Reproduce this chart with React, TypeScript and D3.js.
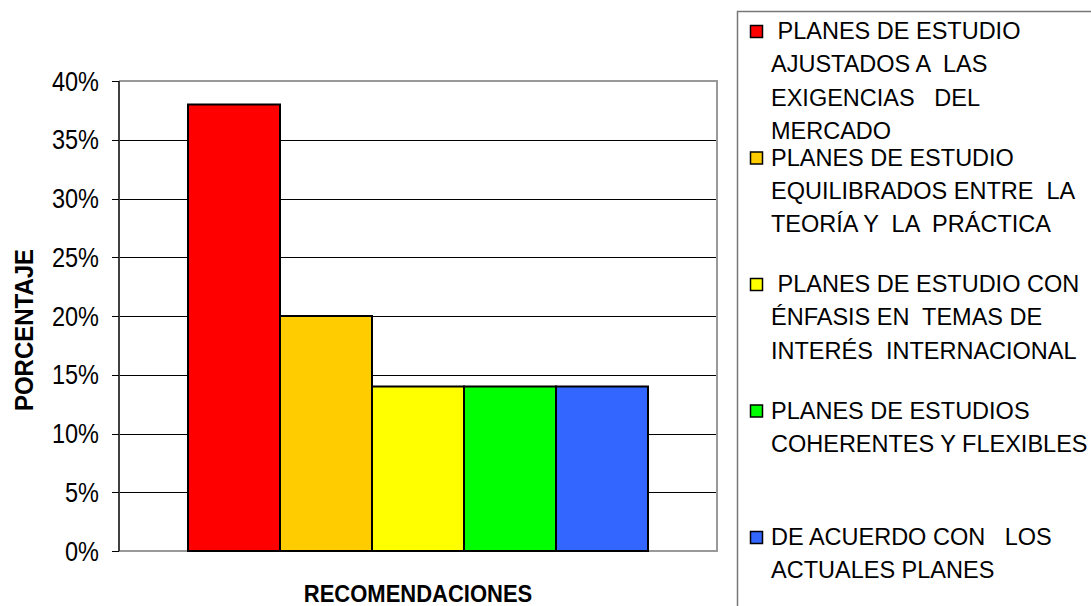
import React from "react";
import * as d3 from "d3";

const seriesNames = [
  "PLANES DE ESTUDIO AJUSTADOS A LAS EXIGENCIAS DEL MERCADO",
  "PLANES DE ESTUDIO EQUILIBRADOS ENTRE LA TEORÍA Y LA PRÁCTICA",
  "PLANES DE ESTUDIO CON ÉNFASIS EN TEMAS DE INTERÉS INTERNACIONAL",
  "PLANES DE ESTUDIOS COHERENTES Y FLEXIBLES",
  "DE ACUERDO CON LOS ACTUALES PLANES",
];
const legendLines = [
  [" PLANES DE ESTUDIO", "AJUSTADOS A  LAS", "EXIGENCIAS   DEL", "MERCADO"],
  ["PLANES DE ESTUDIO", "EQUILIBRADOS ENTRE  LA", "TEORÍA Y  LA  PRÁCTICA"],
  [" PLANES DE ESTUDIO CON", "ÉNFASIS EN  TEMAS DE", "INTERÉS  INTERNACIONAL"],
  ["PLANES DE ESTUDIOS", "COHERENTES Y FLEXIBLES"],
  ["DE ACUERDO CON   LOS", "ACTUALES PLANES"],
];
const values = [38, 20, 14, 14, 14];
const colors = ["#FF0000", "#FFCC00", "#FFFF00", "#00FF00", "#3366FF"];
const category = ["RECOMENDACIONES"];
const yTicks = [0, 5, 10, 15, 20, 25, 30, 35, 40];

const FONT = "Arial, 'Liberation Sans', Helvetica, sans-serif";

export default function App() {
  const left = 119, right = 717, top = 81, bottom = 551;
  const y = d3.scaleLinear().domain([0, 40]).range([bottom, top]);
  const xOuter = d3.scaleBand().domain(category).range([left, right]).paddingInner(0).paddingOuter(0.15);
  const x0 = xOuter(category[0]) as number;
  const xInner = d3.scaleBand().domain(seriesNames).range([x0, x0 + xOuter.bandwidth()]).padding(0);

  const legX = 750, legTextX = 771, legY0 = 39, itemStep = 126.5, lineStep = 33.3;

  return (
    <svg width={1091} height={606} style={{ position: "absolute", left: 0, top: 0, background: "#fff" }} fontFamily={FONT}>
      <rect x={0} y={0} width={1091} height={606} fill="#fff" />
      {yTicks.filter((t) => t > 0 && t < 40).map((t) => (
        <line key={"g" + t} x1={left} x2={right} y1={Math.round(y(t)) + 0.5} y2={Math.round(y(t)) + 0.5} stroke="#000" strokeWidth={1} />
      ))}
      <path d={`M${left},${top} H${right} V${bottom} H${left}`} fill="none" stroke="#999" strokeWidth={2} />
      {values.map((v, i) => (
        <rect
          key={"b" + i}
          x={xInner(seriesNames[i]) as number}
          y={y(v)}
          width={xInner.bandwidth()}
          height={y(0) - y(v)}
          fill={colors[i]}
          stroke="#000"
          strokeWidth={2}
        />
      ))}
      <line x1={left} x2={left} y1={top} y2={bottom} stroke="#404040" strokeWidth={2} />
      {yTicks.map((t) => (
        <g key={"t" + t}>
          <line x1={112} x2={left} y1={Math.round(y(t)) + 0.5} y2={Math.round(y(t)) + 0.5} stroke="#000" strokeWidth={1} />
          <text
            transform={`translate(99,${y(t) + 9.5}) scale(1,1.2)`}
            textAnchor="end"
            fontSize={23.5}
            fill="#000"
          >
            {t + "%"}
          </text>
        </g>
      ))}
      <text
        transform={`translate(33,330) rotate(-90) scale(1,1.08)`}
        textAnchor="middle"
        fontSize={24}
        fontWeight="bold"
        fill="#000"
      >
        PORCENTAJE
      </text>
      <text
        transform={`translate(${(left + right) / 2},602) scale(1,1.1)`}
        textAnchor="middle"
        fontSize={22}
        fontWeight="bold"
        fill="#000"
      >
        {category[0]}
      </text>
      <rect x={737.5} y={11.5} width={400} height={700} fill="none" stroke="#777" strokeWidth={1.5} />
      {legendLines.map((lines, i) => {
        const by = legY0 + i * itemStep;
        return (
          <g key={"l" + i}>
            <rect x={legX + 0.5} y={by - 13.5} width={12} height={12} fill={colors[i]} stroke="#000" strokeWidth={1.5} />
            {lines.map((ln, j) => (
              <text
                key={j}
                x={legTextX}
                y={by + j * lineStep}
                fontSize={23.5}
                fill="#000"
                style={{ whiteSpace: "pre" }}
              >
                {ln}
              </text>
            ))}
          </g>
        );
      })}
    </svg>
  );
}
